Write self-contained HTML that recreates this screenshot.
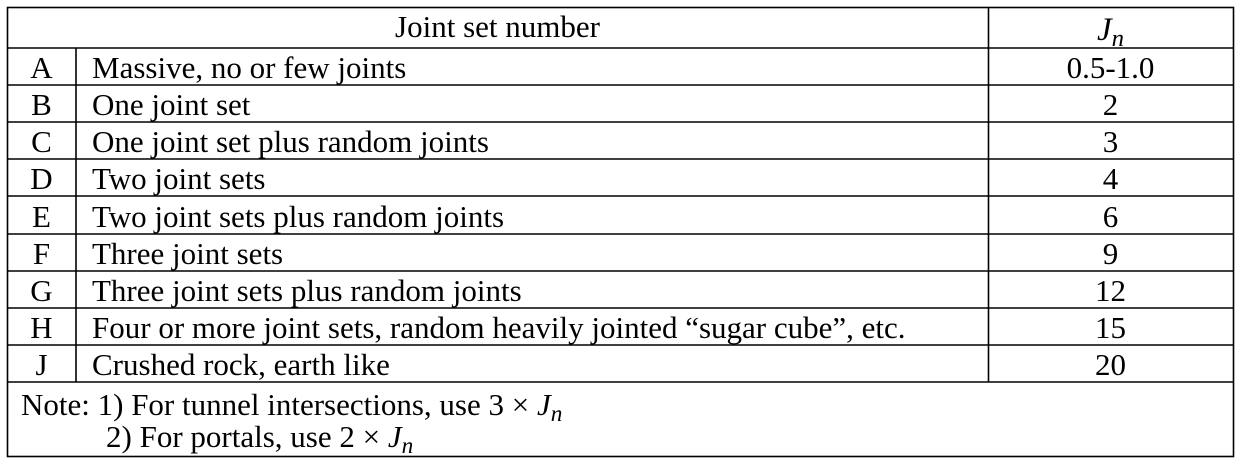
<!DOCTYPE html>
<html><head><meta charset="utf-8"><style>
body{margin:0;width:1242px;height:463px;background:#fff;position:relative;overflow:hidden;font-family:"Liberation Serif",serif;font-size:31px;color:#000}
.t{position:absolute;white-space:nowrap;line-height:37px;height:37px}
.c{text-align:center}
i{font-style:italic}
sub{font-size:0.75em;vertical-align:-0.25em;font-style:italic}
</style></head><body>
<svg width="1242" height="463" style="position:absolute;left:0;top:0">
<g stroke="#000" stroke-width="1.6" fill="none">
<rect x="7.5" y="7.5" width="1226" height="449"/>
<line x1="7" y1="48" x2="1234" y2="48"/>
<line x1="7" y1="85" x2="1234" y2="85"/>
<line x1="7" y1="122" x2="1234" y2="122"/>
<line x1="7" y1="159" x2="1234" y2="159"/>
<line x1="7" y1="196" x2="1234" y2="196"/>
<line x1="7" y1="234" x2="1234" y2="234"/>
<line x1="7" y1="271" x2="1234" y2="271"/>
<line x1="7" y1="308" x2="1234" y2="308"/>
<line x1="7" y1="345" x2="1234" y2="345"/>
<line x1="7" y1="382" x2="1234" y2="382"/>
<line x1="76" y1="48" x2="76" y2="382"/>
<line x1="988.5" y1="7" x2="988.5" y2="382"/>
</g></svg>
<div class="t c" style="left:7px;width:981px;top:7px;height:40px;line-height:40px">Joint set number</div>
<div class="t c" style="left:988px;width:245px;top:10px;height:40px;line-height:40px;font-size:33px"><i>J</i><sub>n</sub></div>

<div class="t c" style="left:7px;width:69px;top:49px">A</div>
<div class="t" style="left:92px;top:49px">Massive, no or few joints</div>
<div class="t c" style="left:988px;width:245px;top:49px">0.5-1.0</div>

<div class="t c" style="left:7px;width:69px;top:86px">B</div>
<div class="t" style="left:92px;top:86px">One joint set</div>
<div class="t c" style="left:988px;width:245px;top:86px">2</div>

<div class="t c" style="left:7px;width:69px;top:123px">C</div>
<div class="t" style="left:92px;top:123px">One joint set plus random joints</div>
<div class="t c" style="left:988px;width:245px;top:123px">3</div>

<div class="t c" style="left:7px;width:69px;top:160px">D</div>
<div class="t" style="left:92px;top:160px">Two joint sets</div>
<div class="t c" style="left:988px;width:245px;top:160px">4</div>

<div class="t c" style="left:7px;width:69px;top:198px">E</div>
<div class="t" style="left:92px;top:198px">Two joint sets plus random joints</div>
<div class="t c" style="left:988px;width:245px;top:198px">6</div>

<div class="t c" style="left:7px;width:69px;top:235px">F</div>
<div class="t" style="left:92px;top:235px">Three joint sets</div>
<div class="t c" style="left:988px;width:245px;top:235px">9</div>

<div class="t c" style="left:7px;width:69px;top:272px">G</div>
<div class="t" style="left:92px;top:272px">Three joint sets plus random joints</div>
<div class="t c" style="left:988px;width:245px;top:272px">12</div>

<div class="t c" style="left:7px;width:69px;top:309px">H</div>
<div class="t" style="left:92px;top:309px">Four or more joint sets, random heavily jointed “sugar cube”, etc.</div>
<div class="t c" style="left:988px;width:245px;top:309px">15</div>

<div class="t c" style="left:7px;width:69px;top:346px">J</div>
<div class="t" style="left:92px;top:346px">Crushed rock, earth like</div>
<div class="t c" style="left:988px;width:245px;top:346px">20</div>

<div class="t" style="left:21px;top:386px">Note: 1) For tunnel intersections, use 3 × <i>J</i><sub>n</sub></div>
<div class="t" style="left:106px;top:418px">2) For portals, use 2 × <i>J</i><sub>n</sub></div>
</body></html>
